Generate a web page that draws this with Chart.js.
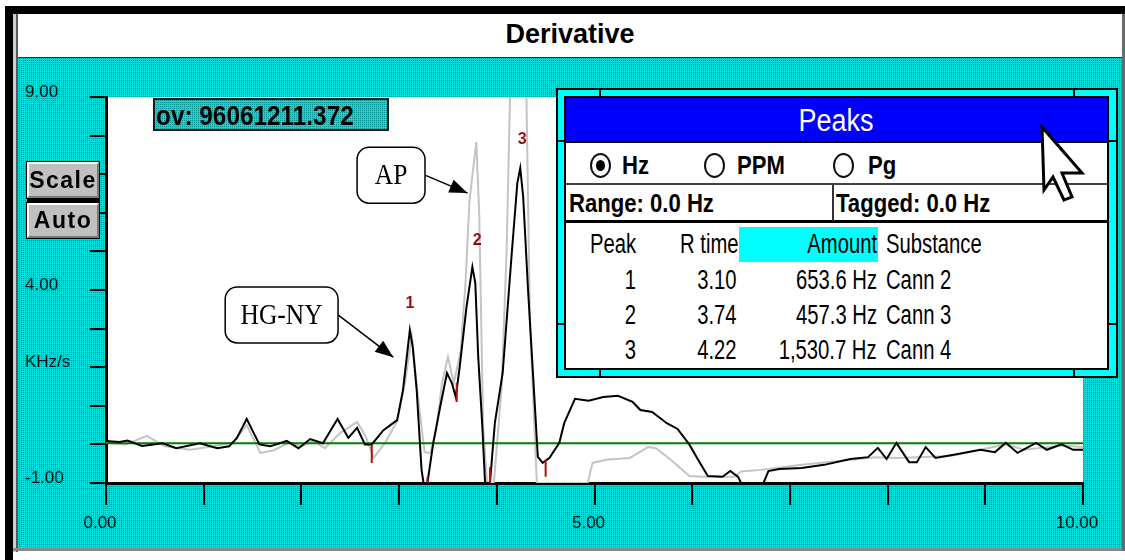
<!DOCTYPE html>
<html>
<head>
<meta charset="utf-8">
<title>Derivative</title>
<script src="https://cdn.jsdelivr.net/npm/chart.js"></script>
<style>
  html, body { margin: 0; padding: 0; background: #fff; }
  #win { position: relative; width: 1125px; height: 560px; overflow: hidden; background: #fff;
         font-family: "Liberation Sans", Arial, sans-serif; color: #000; }
  #win div { position: absolute; box-sizing: border-box; }
  .teal { background-color: #00c8c8;
          background-image: repeating-conic-gradient(#009494 0 25%, #00dcdc 0 100%);
          background-size: 2px 2px; }
  #chart { position: absolute; left: 0; top: 0; }
  .txt { white-space: pre; }
  .btn { background: #c0c0c0; border: 2px solid; border-color: #fff #7a7a7a #7a7a7a #fff;
         box-shadow: 0 0 0 1px #000; font-weight: bold; font-size: 23px; text-align: center;
         letter-spacing: 1.5px; }
  .radio { width: 21px; height: 25px; border: 2px solid #111; border-radius: 50%; background: #fff; }
  .dot { left: 4px; top: 5px; width: 9px; height: 11px; border-radius: 50%; background: #000; }
  .bar { background: #000; }
</style>
</head>
<body>
<div id="win">
  <!-- window frame -->
  <div style="left:5px;top:6px;width:1120px;height:8px;background:#000"></div>
  <div style="left:5px;top:6px;width:8px;height:554px;background:#000"></div>
  <div style="left:13px;top:14px;width:5px;height:538px;background:linear-gradient(to right,#cfcfcf 0 3px,#5a5a5a 3px)"></div>
  <div style="left:18px;top:14px;width:1104px;height:44px;background:#fff;border-bottom:1px solid #333;text-align:center;font-weight:bold;font-size:27px;line-height:40px">Derivative</div>
  <div class="teal" style="left:18px;top:58px;width:1104px;height:490px"></div>
  <div style="left:13px;top:548px;width:1112px;height:3px;background:#8a8a8a"></div>
  <div style="left:1122px;top:14px;width:3px;height:537px;background:#6a6a6a"></div>

  <canvas id="chart" width="1125" height="560"></canvas>

  <!-- scale buttons -->
  <div class="btn" style="left:27px;top:162px;width:72px;height:36px;line-height:32px">Scale</div>
  <div class="bar" style="left:27px;top:198px;width:73px;height:5px"></div>
  <div class="btn" style="left:27px;top:203px;width:72px;height:35px;line-height:30px">Auto</div>

  <!-- readout -->
  <div class="teal" style="left:153px;top:98px;width:236px;height:33px;border:2px solid #1a1a1a"></div>

  <!-- peaks window -->
  <div style="left:556px;top:88px;width:562px;height:290px;border:2px solid #000;background:#00ffff"></div>
  <div class="bar" style="left:599px;top:90px;width:2px;height:6px"></div>
  <div class="bar" style="left:1073px;top:90px;width:2px;height:6px"></div>
  <div class="bar" style="left:599px;top:370px;width:2px;height:6px"></div>
  <div class="bar" style="left:1073px;top:370px;width:2px;height:6px"></div>
  <div class="bar" style="left:558px;top:140px;width:6px;height:2px"></div>
  <div class="bar" style="left:558px;top:323px;width:6px;height:2px"></div>
  <div class="bar" style="left:1109px;top:140px;width:7px;height:2px"></div>
  <div class="bar" style="left:1109px;top:323px;width:7px;height:2px"></div>
  <div style="left:564px;top:96px;width:545px;height:274px;border:2px solid #000;background:#fff"></div>
  <div style="left:566px;top:98px;width:541px;height:45px;background:#0000ff;border-bottom:2px solid #000"></div>
  <div style="left:566px;top:183px;width:541px;height:2px;background:#444"></div>
  <div style="left:566px;top:185px;width:541px;height:38px;border-bottom:3px solid #000"></div>
  <div style="left:832px;top:185px;width:2px;height:36px;background:#333"></div>
  <div style="left:739px;top:227px;width:139px;height:35px;background:#00ffff"></div>
  <div class="radio" style="left:590px;top:153px"><div class="dot"></div></div>
  <div class="radio" style="left:704px;top:153px"></div>
  <div class="radio" style="left:833px;top:153px"></div>
  <svg style="position:absolute;left:1039px;top:124px" width="50" height="82" viewBox="-3 -3 50 82">
    <polygon points="0,0 2,63 11,50 22,73 30,70 20,46 40,46" fill="#fff" stroke="#000" stroke-width="3"/>
  </svg>
</div>

<script>
// derivative trace (black)
const traceTime = [0.00, 0.14, 0.22, 0.37, 0.58, 0.72, 0.96, 1.14, 1.26, 1.34, 1.44, 1.57, 1.68, 1.85,
  1.97, 2.09, 2.22, 2.37, 2.48, 2.57, 2.65, 2.72, 2.84, 2.98, 3.04, 3.11, 3.14, 3.18, 3.23, 3.25,
  3.29, 3.35, 3.42, 3.49, 3.54, 3.58, 3.62, 3.69, 3.75, 3.78, 3.81, 3.85, 3.88, 3.93, 3.98, 4.06,
  4.15, 4.21, 4.24, 4.27, 4.32, 4.37, 4.42, 4.47, 4.54, 4.64, 4.69, 4.80, 4.94, 5.09, 5.24, 5.39,
  5.47, 5.59, 5.74, 5.85, 5.97, 6.05, 6.16, 6.31, 6.39, 6.47, 6.50, 6.73, 6.78, 6.89, 7.12, 7.35,
  7.62, 7.80, 7.90, 7.99, 8.09, 8.22, 8.30, 8.39, 8.49, 8.72, 8.95, 9.10, 9.21, 9.33, 9.52, 9.63,
  9.78, 9.90, 10.00];
const traceDeriv = [0.09, 0.06, 0.10, -0.04, 0.03, -0.10, 0.03, -0.10, -0.05, 0.17, 0.66, 0.00, -0.05, 0.09,
  -0.10, 0.14, 0.03, 0.66, 0.17, 0.43, 0.00, 0.00, 0.37, 0.63, 1.41, 2.96, 2.52, 1.41, -0.66, -1.00,
  -1.00, 0.04, 0.97, 1.85, 1.59, 1.23, 2.00, 3.56, 4.60, 4.18, 2.26, 0.55, -1.00, -1.00, 0.55, 1.85,
  4.85, 6.77, 7.16, 6.41, 4.00, 1.85, -0.32, -0.48, -0.35, 0.04, 0.55, 1.18, 1.13, 1.23, 1.26, 1.10,
  0.89, 0.84, 0.55, 0.40, 0.00, -0.35, -0.82, -0.84, -0.69, -0.84, -1.00, -1.00, -0.69, -0.64, -0.61, -0.53,
  -0.38, -0.33, -0.09, -0.38, 0.04, -0.46, -0.46, -0.07, -0.35, -0.25, -0.14, -0.20, 0.04, -0.22, 0.04, -0.14,
  0.00, -0.14, -0.14];

// reference trace (light grey)
const refTime = [0.00, 0.20, 0.42, 0.60, 0.86, 1.10, 1.30, 1.44, 1.58, 1.72, 1.88, 2.00, 2.12, 2.24,
  2.40, 2.57, 2.66, 2.74, 2.86, 2.98, 3.06, 3.13, 3.19, 3.26, 3.32, 3.38, 3.44, 3.50, 3.56, 3.63,
  3.68, 3.72, 3.79, 3.82, 3.86, 3.90, 3.97, 4.05, 4.10, 4.14, 4.16, 4.29, 4.30, 4.34, 4.41, 4.93,
  4.98, 5.12, 5.36, 5.55, 5.63, 5.78, 5.97, 6.12, 6.43, 6.50, 6.70, 7.12, 7.88, 8.10, 8.64, 9.21,
  9.40, 9.78, 10.00];
const refDeriv = [0.05, 0.00, 0.22, -0.05, -0.14, -0.05, 0.05, 0.50, -0.22, -0.15, 0.05, -0.05, 0.10, -0.10,
  0.30, 0.58, 0.20, -0.35, 0.06, 0.60, 1.60, 2.80, 1.30, -0.20, -0.22, 0.37, 1.60, 2.27, 1.59, 2.40,
  4.20, 6.30, 7.83, 6.00, 0.50, -1.00, -1.00, 1.50, 5.00, 9.50, 10.50, 10.50, 9.50, 3.10, -1.00, -1.00,
  -0.48, -0.40, -0.35, -0.07, -0.10, -0.40, -0.82, -0.84, -0.84, -0.70, -0.66, -0.53, -0.33, -0.35, -0.30, 0.00,
  -0.14, -0.03, -0.07];

// baseline (green)
const baselineTime = [0, 10];
const baselineLevel = [0.03, 0.03];

// peak start/end markers (red)
const boundaryTime = [2.72, 3.29, 3.59, 3.93, 4.50];
const boundaryHigh = [0.00, -0.85, 1.59, -0.59, -0.40];
const boundaryLow = [-0.48, -1.00, 1.10, -1.00, -0.84];

// peak table
const peakNumber = [1, 2, 3];
const peakLabelTime = [3.11, 3.80, 4.26];
const peakLabelLevel = [3.64, 5.27, 7.89];
const peakRetention = ['3.10', '3.74', '4.22'];
const peakAmount = ['653.6 Hz', '457.3 Hz', '1,530.7 Hz'];
const peakSubstance = ['Cann 2', 'Cann 3', 'Cann 4'];

// axis labels
const xTickValues = [0, 5, 10];
const xTickText = ['0.00', '5.00', '10.00'];
const yTickValues = [9, 4, 2, -1];
const yTickText = ['9.00', '4.00', 'KHz/s', '-1.00'];

const callouts = [
  { text: 'AP', box: [2.57, 7.70, 3.265, 6.25], tip: [3.70, 6.51] },
  { text: 'HG-NY', box: [1.22, 4.08, 2.375, 2.63], tip: [2.94, 2.26] },
];

function toPoints(xs, ys) {
  return xs.map((x, i) => ({ x: x, y: ys[i] }));
}

const boundaryPoints = [];
boundaryTime.forEach((t, i) => {
  boundaryPoints.push({ x: t, y: boundaryHigh[i] }, { x: t, y: boundaryLow[i] }, { x: t, y: null });
});

const plotBackground = {
  id: 'plotBackground',
  beforeDraw(chart) {
    const { ctx, chartArea: a } = chart;
    ctx.save();
    ctx.fillStyle = '#fff';
    ctx.fillRect(a.left, a.top, a.right - a.left, a.bottom - a.top);
    ctx.restore();
  }
};

const peakLabels = {
  id: 'peakLabels',
  afterDatasetsDraw(chart) {
    const { ctx, scales: { x, y } } = chart;
    ctx.save();
    ctx.font = 'bold 16px "Liberation Sans", Arial, sans-serif';
    ctx.fillStyle = '#9a0c0c';
    ctx.textAlign = 'center';
    ctx.textBaseline = 'middle';
    peakNumber.forEach((n, i) => {
      ctx.fillText(String(n), x.getPixelForValue(peakLabelTime[i]), y.getPixelForValue(peakLabelLevel[i]));
    });
    ctx.restore();
  }
};

function roundBox(ctx, l, t, w, h, r) {
  ctx.beginPath();
  ctx.moveTo(l + r, t);
  ctx.arcTo(l + w, t, l + w, t + h, r);
  ctx.arcTo(l + w, t + h, l, t + h, r);
  ctx.arcTo(l, t + h, l, t, r);
  ctx.arcTo(l, t, l + w, t, r);
  ctx.closePath();
}

const calloutBoxes = {
  id: 'calloutBoxes',
  afterDatasetsDraw(chart) {
    const { ctx, scales: { x, y } } = chart;
    ctx.save();
    callouts.forEach((c) => {
      const l = x.getPixelForValue(c.box[0]);
      const t = y.getPixelForValue(c.box[1]);
      const r = x.getPixelForValue(c.box[2]);
      const b = y.getPixelForValue(c.box[3]);
      const tx = x.getPixelForValue(c.tip[0]);
      const ty = y.getPixelForValue(c.tip[1]);
      const my = (t + b) / 2;
      ctx.strokeStyle = '#000';
      ctx.fillStyle = '#000';
      ctx.lineWidth = 1.5;
      ctx.beginPath();
      ctx.moveTo(r, my);
      ctx.lineTo(tx, ty);
      ctx.stroke();
      const ang = Math.atan2(ty - my, tx - r);
      const cos = Math.cos(ang), sin = Math.sin(ang);
      ctx.beginPath();
      ctx.moveTo(tx, ty);
      ctx.lineTo(tx - 18 * cos + 7 * sin, ty - 18 * sin - 7 * cos);
      ctx.lineTo(tx - 18 * cos - 7 * sin, ty - 18 * sin + 7 * cos);
      ctx.closePath();
      ctx.fill();
      roundBox(ctx, l, t, r - l, b - t, 12);
      ctx.fillStyle = '#fff';
      ctx.fill();
      ctx.stroke();
      ctx.save();
      ctx.translate((l + r) / 2, my + 1);
      ctx.scale(0.85, 1);
      ctx.fillStyle = '#000';
      ctx.font = '30px "Liberation Serif", "Times New Roman", serif';
      ctx.textAlign = 'center';
      ctx.textBaseline = 'middle';
      ctx.fillText(c.text, 0, 0);
      ctx.restore();
    });
    ctx.restore();
  }
};

const tickFont = { family: '"Liberation Sans", Arial, sans-serif', size: 17 };

const chart = new Chart(document.getElementById('chart'), {
  type: 'line',
  data: {
    datasets: [
      { label: 'Peak limits', data: boundaryPoints, borderColor: '#b01010', borderWidth: 2, spanGaps: false, order: 0 },
      { label: 'Derivative', data: toPoints(traceTime, traceDeriv), borderColor: '#000', borderWidth: 2, order: 1 },
      { label: 'Baseline', data: toPoints(baselineTime, baselineLevel), borderColor: '#008000', borderWidth: 2, order: 2 },
      { label: 'Reference', data: toPoints(refTime, refDeriv), borderColor: '#c4c4c4', borderWidth: 2, order: 3 },
    ]
  },
  options: {
    responsive: false,
    animation: false,
    events: [],
    layout: { padding: { left: 25, top: 97, right: 42, bottom: 17 } },
    elements: { point: { radius: 0 }, line: { tension: 0, fill: false } },
    scales: {
      x: {
        type: 'linear', min: 0, max: 10,
        border: { display: true, color: '#000', width: 3 },
        grid: { drawOnChartArea: false, drawTicks: true, tickLength: 22, color: '#000', lineWidth: 2 },
        ticks: {
          stepSize: 1, autoSkip: false, maxRotation: 0, padding: 8, labelOffset: -6,
          color: '#111', font: tickFont,
          callback: (v) => { const i = xTickValues.indexOf(v); return i < 0 ? '' : xTickText[i]; }
        },
        afterFit: (s) => { s.height = 60; }
      },
      y: {
        type: 'linear', min: -1, max: 9,
        border: { display: true, color: '#000', width: 3 },
        grid: { drawOnChartArea: false, drawTicks: true, tickLength: 16, color: '#000', lineWidth: 2 },
        ticks: {
          stepSize: 1, autoSkip: false, crossAlign: 'far', padding: 0, labelOffset: -5,
          color: '#111', font: tickFont,
          callback: (v) => { const i = yTickValues.indexOf(v); return i < 0 ? '' : yTickText[i]; }
        },
        afterFit: (s) => { s.width = 81; }
      }
    },
    plugins: { legend: { display: false }, tooltip: { enabled: false } }
  },
  plugins: [plotBackground, peakLabels, calloutBoxes]
});

// text for the overlay panels
const win = document.getElementById('win');
function label(text, x, cy, size, opts = {}) {
  const el = document.createElement('div');
  el.className = 'txt';
  el.textContent = text;
  const lh = Math.round(size * 1.2);
  el.style.top = (cy - lh / 2) + 'px';
  el.style.lineHeight = lh + 'px';
  el.style.fontSize = size + 'px';
  el.style.fontWeight = opts.bold ? 'bold' : 'normal';
  if (opts.color) el.style.color = opts.color;
  const sx = opts.sx || 1;
  if (opts.align === 'right') {
    el.style.right = (1125 - x) + 'px';
    el.style.transformOrigin = 'right center';
    el.style.transform = 'scaleX(' + sx + ')';
  } else if (opts.align === 'center') {
    el.style.left = x + 'px';
    el.style.transform = 'translateX(-50%) scaleX(' + sx + ')';
  } else {
    el.style.left = x + 'px';
    el.style.transformOrigin = 'left center';
    el.style.transform = 'scaleX(' + sx + ')';
  }
  win.appendChild(el);
}

label('ov: 96061211.372', 156, 116, 28, { bold: true, sx: 0.87 });
label('Peaks', 836, 120, 31, { align: 'center', sx: 0.87, color: '#fff' });
label('Hz', 622, 165, 26, { bold: true, sx: 0.85 });
label('PPM', 737, 165, 26, { bold: true, sx: 0.85 });
label('Pg', 868, 165, 26, { bold: true, sx: 0.85 });
label('Range: 0.0 Hz', 569, 203, 26, { bold: true, sx: 0.85 });
label('Tagged: 0.0 Hz', 836, 203, 26, { bold: true, sx: 0.85 });
label('Peak', 590, 244, 27, { sx: 0.75 });
label('R time', 680, 244, 27, { sx: 0.75 });
label('Amount', 877, 244, 27, { align: 'right', sx: 0.75 });
label('Substance', 886, 244, 27, { sx: 0.75 });
peakNumber.forEach((n, i) => {
  const cy = 280 + 35 * i;
  label(String(n), 636, cy, 27, { align: 'right', sx: 0.75 });
  label(peakRetention[i], 737, cy, 27, { align: 'right', sx: 0.75 });
  label(peakAmount[i], 877, cy, 27, { align: 'right', sx: 0.75 });
  label(peakSubstance[i], 886, cy, 27, { sx: 0.75 });
});
</script>
</body>
</html>
